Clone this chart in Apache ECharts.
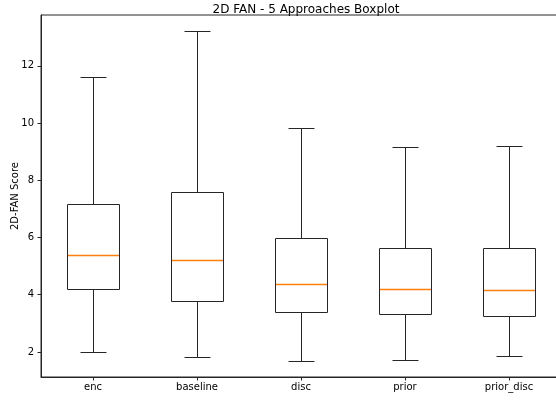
<!DOCTYPE html>
<html>
<head>
<meta charset="utf-8">
<script src="https://cdn.jsdelivr.net/npm/echarts@6/dist/echarts.min.js"></script>
<style>html,body{margin:0;padding:0;background:#fff}#c{width:556px;height:402px}</style>
</head>
<body>
<div id="c"></div>
<script>
const categories = ['enc', 'baseline', 'disc', 'prior', 'prior_disc'];
const lowWhisker = [2.01, 1.83, 1.70, 1.72, 1.85];
const q1 = [4.21, 3.79, 3.40, 3.31, 3.26];
const median = [5.40, 5.20, 4.39, 4.19, 4.15];
const q3 = [7.18, 7.58, 5.99, 5.65, 5.64];
const highWhisker = [11.60, 13.21, 9.82, 9.15, 9.21];
const yTicks = [2, 4, 6, 8, 10, 12];

const data = categories.map((c, i) => [i, lowWhisker[i], q1[i], median[i], q3[i], highWhisker[i]]);
const FONT = 'DejaVu Sans';
const EDGE = '#262626';

function renderItem(params, api) {
  const idx = api.value(0);
  const band = api.size([1, 0])[0];
  const bw = band * 0.5, cw = band * 0.25;
  const pLo = api.coord([idx, api.value(1)]);
  const pQ1 = api.coord([idx, api.value(2)]);
  const pMed = api.coord([idx, api.value(3)]);
  const pQ3 = api.coord([idx, api.value(4)]);
  const pHi = api.coord([idx, api.value(5)]);
  const x = Math.round(pLo[0]) + 0.5;
  const r = v => Math.round(v) + 0.5;
  const line = (x1, y1, x2, y2, color, w) => ({
    type: 'line',
    shape: {x1, y1, x2, y2},
    style: {stroke: color, lineWidth: w || 1}
  });
  return {
    type: 'group',
    children: [
      line(x, r(pLo[1]), x, r(pQ1[1]), EDGE),
      line(x, r(pQ3[1]), x, r(pHi[1]), EDGE),
      line(x - cw / 2, r(pLo[1]), x + cw / 2, r(pLo[1]), EDGE),
      line(x - cw / 2, r(pHi[1]), x + cw / 2, r(pHi[1]), EDGE),
      {
        type: 'rect',
        shape: {x: x - bw / 2, y: r(pQ3[1]), width: bw, height: r(pQ1[1]) - r(pQ3[1])},
        style: {fill: 'none', stroke: EDGE, lineWidth: 1}
      },
      line(x - bw / 2 + 0.5, r(pMed[1]), x + bw / 2 - 0.5, r(pMed[1]), '#ff7f0e', 1.4)
    ]
  };
}

const chart = echarts.init(document.getElementById('c'), null, {renderer: 'canvas'});
chart.setOption({
  animation: false,
  backgroundColor: '#fff',
  title: {
    text: '2D FAN - 5 Approaches Boxplot',
    left: 301, top: -1, textAlign: 'center',
    textStyle: {fontFamily: FONT, fontSize: 12, fontWeight: 'normal', color: '#000'}
  },
  grid: {
    left: 41, top: 15, width: 520, height: 362,
    containLabel: false, outerBoundsMode: 'none',
    show: true, borderColor: EDGE, borderWidth: 1, backgroundColor: 'transparent'
  },
  xAxis: {
    type: 'category',
    data: categories,
    boundaryGap: true,
    axisLine: {show: true, lineStyle: {color: EDGE, width: 1}},
    axisTick: {show: true, alignWithLabel: true, length: 3.5, lineStyle: {color: EDGE}},
    axisLabel: {fontFamily: FONT, fontSize: 10, color: '#000', margin: 5},
    splitLine: {show: false}
  },
  yAxis: {
    type: 'value',
    min: 1.125, max: 13.775,
    name: '2D-FAN Score',
    nameLocation: 'middle',
    nameGap: 21,
    nameMoveOverlap: false,
    nameTextStyle: {fontFamily: FONT, fontSize: 10, color: '#000'},
    axisLine: {show: true, lineStyle: {color: EDGE, width: 1}},
    axisTick: {show: true, length: 3.5, customValues: yTicks, lineStyle: {color: EDGE}},
    axisLabel: {fontFamily: FONT, fontSize: 10, color: '#000', margin: 7, customValues: yTicks},
    splitLine: {show: false}
  },
  series: [{
    type: 'custom',
    renderItem: renderItem,
    data: data,
    encode: {x: 0, y: [1, 2, 3, 4, 5]},
    clip: false
  }]
});
</script>
</body>
</html>
